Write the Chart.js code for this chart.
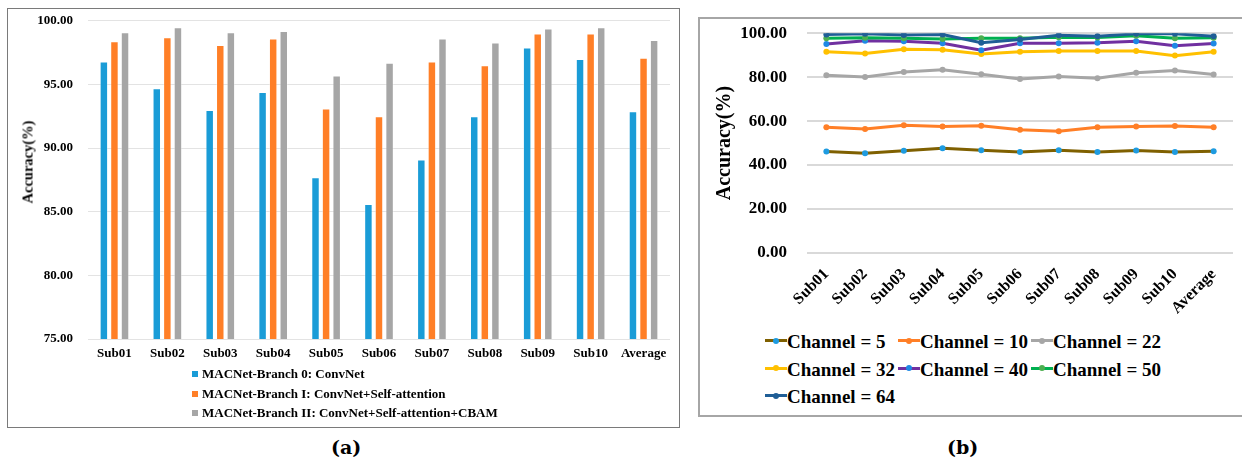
<!DOCTYPE html>
<html>
<head>
<meta charset="utf-8">
<script src="https://cdn.jsdelivr.net/npm/chart.js@4.4.1/dist/chart.umd.min.js"></script>
<style>
	body { margin: 0; background: #fff; width: 1242px; height: 464px; position: relative; overflow: hidden; font-family: 'Liberation Serif', serif; }
	.box { position: absolute; box-sizing: border-box; }
	#boxA { left: 7px; top: 8px; width: 673px; height: 420px; border: 1.5px solid #7a7a7a; }
	#boxB { left: 698px; top: 17px; width: 560px; height: 400px; border: 2px solid #a6a6a6; }
	#wrapA { position: absolute; left: 8px; top: -2px; width: 670px; height: 380px; }
	#wrapB { position: absolute; left: 699px; top: 3px; width: 543px; height: 320px; }
	#titleA { position: absolute; left: 28px; top: 162px; font-weight: bold; font-size: 14.5px; white-space: nowrap; transform: translate(-50%, -50%) rotate(-90deg); color: #000; }
	.legA { position: absolute; left: 192px; font-weight: bold; font-size: 13px; color: #000; }
	.legA div { height: 19.5px; line-height: 19.5px; white-space: nowrap; }
	.legA span.sw { display: inline-block; width: 6px; height: 6px; margin-right: 4px; vertical-align: 1px; }
	.legB { position: absolute; left: 765px; top: 328px; font-weight: bold; font-size: 19px; color: #000; }
	.legB .it { position: absolute; white-space: nowrap; height: 28px; line-height: 28px; }
	.legB .ln { display: inline-block; width: 22px; height: 3px; position: relative; vertical-align: 6px; margin-right: 0px; }
	.legB .dt { position: absolute; left: 8px; top: -1.5px; width: 6px; height: 6px; border-radius: 3px; }
	.cap { position: absolute; font-weight: bold; font-size: 19px; font-family: 'DejaVu Serif', serif; color: #000; }
</style>
</head>
<body>
<div class="box" id="boxA"></div>
<div class="box" id="boxB"></div>
<div id="wrapA"><canvas id="chartA"></canvas></div>
<div id="wrapB"><canvas id="chartB"></canvas></div>
<div id="titleA">Accuracy(%)</div>
<div class="legA" id="legendA" style="top:364px"></div>
<div class="legB" id="legendB"></div>
<div class="cap" style="left:331px; top:436px">(a)</div>
<div class="cap" style="left:947px; top:436px">(b)</div>

<script>
// ----- data (a) -----
var categories = ['Sub01', 'Sub02', 'Sub03', 'Sub04', 'Sub05', 'Sub06', 'Sub07', 'Sub08', 'Sub09', 'Sub10', 'Average'];
var branchLabels = ['MACNet-Branch 0: ConvNet', 'MACNet-Branch I: ConvNet+Self-attention', 'MACNet-Branch II: ConvNet+Self-attention+CBAM'];
var branch0 = [96.8, 94.7, 93.0, 94.4, 87.7, 85.6, 89.1, 92.5, 97.9, 97.0, 92.9];
var branch1 = [98.4, 98.7, 98.1, 98.6, 93.1, 92.5, 96.8, 96.5, 99.0, 99.0, 97.1];
var branch2 = [99.1, 99.5, 99.1, 99.2, 95.7, 96.7, 98.6, 98.3, 99.4, 99.5, 98.5];
var yTicksA = [75, 80, 85, 90, 95, 100];

// ----- data (b) -----
var channelLabels = ['Channel = 5', 'Channel = 10', 'Channel = 22', 'Channel = 32', 'Channel = 40', 'Channel = 50', 'Channel = 64'];
var ch5 = [46.2, 45.4, 46.5, 47.7, 46.8, 45.9, 46.8, 45.9, 46.6, 46.0, 46.3];
var ch10 = [57.2, 56.4, 58.1, 57.5, 57.9, 56.1, 55.4, 57.2, 57.5, 57.8, 57.2];
var ch22 = [80.9, 80.1, 82.4, 83.4, 81.3, 79.2, 80.3, 79.5, 82.0, 83.0, 81.2];
var ch32 = [91.6, 90.8, 92.7, 92.5, 90.5, 91.6, 91.9, 91.9, 91.9, 89.8, 91.6];
var ch40 = [95.1, 96.6, 96.3, 95.4, 92.2, 95.4, 95.4, 95.6, 96.3, 94.3, 95.3];
var ch50 = [97.7, 97.9, 97.7, 97.4, 97.7, 97.7, 98.2, 98.0, 98.8, 97.7, 97.9];
var ch64 = [99.4, 99.7, 99.2, 99.4, 95.7, 97.1, 99.1, 98.6, 99.7, 99.7, 98.6];
var yTicksB = [0, 20, 40, 60, 80, 100];

var barColors = ['#1a9cd7', '#ff7f27', '#a6a6a6'];
var lineColors = ['#7f6000', '#ff7f27', '#a6a6a6', '#ffc000', '#7030a0', '#00b050', '#1f5e96'];
var markerColors = ['#1e9be0', '#ff7f27', '#a6a6a6', '#ffc000', '#1e88e5', '#4caf50', '#1f5e96'];

Chart.defaults.font.family = "'Liberation Serif', serif";
Chart.defaults.font.weight = 'bold';
Chart.defaults.color = '#000';

function fixed2(v) {
	return Number(v).toFixed(2);
}

// ----- chart (a) -----
var barData = [branch0, branch1, branch2];
var barSets = [];
for (var i = 0; i < barData.length; i++) {
	barSets.push({
		label: branchLabels[i],
		data: barData[i],
		backgroundColor: barColors[i],
		borderColor: 'rgba(255,255,255,0.35)',
		borderWidth: 1,
		categoryPercentage: 0.6,
		barPercentage: 0.8
	});
}

new Chart(document.getElementById('chartA').getContext('2d'), {
	type: 'bar',
	data: { labels: categories, datasets: barSets },
	options: {
		responsive: true,
		maintainAspectRatio: false,
		animation: false,
		layout: { padding: { top: 0, right: 8, left: 0, bottom: 0 } },
		plugins: { legend: { display: false }, tooltip: { enabled: false } },
		scales: {
			x: {
				grid: { display: false, drawTicks: false },
				border: { display: false },
				ticks: { font: { size: 13, weight: 'bold' }, padding: 7 },
				afterFit: function(scale) { scale.height = 39; }
			},
			y: {
				min: 75,
				max: 100,
				afterBuildTicks: function(scale) {
					scale.ticks = yTicksA.map(function(v) { return { value: v }; });
				},
				grid: { color: '#e3e3e3', lineWidth: 1, drawTicks: false },
				border: { display: false },
				ticks: { font: { size: 13, weight: 'bold' }, padding: 15, callback: fixed2 },
				afterFit: function(scale) { scale.width = 80; }
			}
		}
	}
});

// ----- chart (b) -----
var lineData = [ch5, ch10, ch22, ch32, ch40, ch50, ch64];
var lineSets = [];
for (var j = 0; j < lineData.length; j++) {
	lineSets.push({
		label: channelLabels[j],
		data: lineData[j],
		borderColor: lineColors[j],
		backgroundColor: markerColors[j],
		pointBackgroundColor: markerColors[j],
		pointBorderWidth: 0,
		pointRadius: 3,
		borderWidth: 3,
		tension: 0,
		order: lineData.length - j
	});
}

new Chart(document.getElementById('chartB').getContext('2d'), {
	type: 'line',
	data: { labels: categories, datasets: lineSets },
	options: {
		responsive: true,
		maintainAspectRatio: false,
		animation: false,
		layout: { padding: { top: 0, right: 9, left: 0, bottom: 0 } },
		plugins: { legend: { display: false }, tooltip: { enabled: false } },
		scales: {
			x: {
				offset: true,
				grid: { display: false },
				border: { display: false },
				ticks: { font: { size: 16, weight: 'bold' }, minRotation: 45, maxRotation: 45, padding: 4 },
				afterFit: function(scale) { scale.height = 70; }
			},
			y: {
				min: 0,
				max: 100,
				afterBuildTicks: function(scale) {
					scale.ticks = yTicksB.map(function(v) { return { value: v }; });
				},
				grid: { color: '#d9d9d9', lineWidth: 2, drawTicks: false },
				border: { display: false },
				ticks: { font: { size: 17, weight: 'bold' }, padding: 20, callback: fixed2 },
				title: { display: true, text: 'Accuracy(%)', font: { size: 20, weight: 'bold' }, padding: { top: 14, bottom: 0 } },
				afterFit: function(scale) { scale.width = 108; }
			}
		}
	}
});

// ----- legends -----
var legA = document.getElementById('legendA');
for (var a = 0; a < branchLabels.length; a++) {
	var row = document.createElement('div');
	row.innerHTML = '<span class="sw" style="background:' + barColors[a] + '"></span>' + branchLabels[a];
	legA.appendChild(row);
}

var legB = document.getElementById('legendB');
for (var b = 0; b < channelLabels.length; b++) {
	var it = document.createElement('div');
	it.className = 'it';
	it.style.left = (b % 3) * 133 + 'px';
	it.style.top = Math.floor(b / 3) * 27.5 + 'px';
	it.innerHTML = '<span class="ln" style="background:' + lineColors[b] + '"><span class="dt" style="background:' + markerColors[b] + '"></span></span>' + channelLabels[b];
	legB.appendChild(it);
}
</script>
</body>
</html>
